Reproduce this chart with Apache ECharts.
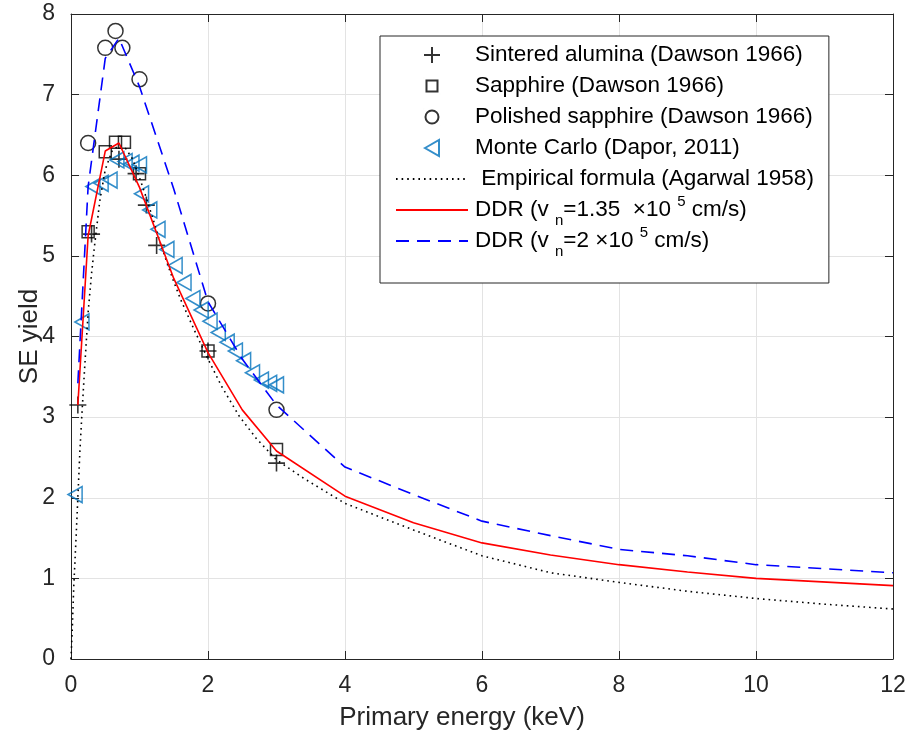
<!DOCTYPE html>
<html>
<head>
<meta charset="utf-8">
<script src="https://cdn.jsdelivr.net/npm/echarts@6/dist/echarts.min.js"></script>
<style>html,body{margin:0;padding:0;background:#fff}#c{width:909px;height:736px}</style>
</head>
<body>
<div id="c"></div>
<script>
// ---- data ----
const sinteredX = [0.1, 0.3, 0.7, 0.95, 1.1, 1.25, 2.0, 3.0];
const sinteredY = [3.15, 5.27, 6.2, 6.02, 5.63, 5.13, 3.82, 2.43];
const sapphireX = [0.25, 0.5, 0.65, 0.78, 1.0, 2.0, 3.0];
const sapphireY = [5.3, 6.29, 6.41, 6.41, 6.02, 3.82, 2.6];
const polishedX = [0.25, 0.5, 0.65, 0.75, 1.0, 2.0, 3.0];
const polishedY = [6.4, 7.58, 7.79, 7.58, 7.19, 4.41, 3.09];
const mcX = [0.06, 0.16, 0.32, 0.44, 0.57, 0.67, 0.79, 0.89, 1.0, 1.03, 1.15, 1.27, 1.4, 1.52, 1.65, 1.78, 1.9, 2.03, 2.15, 2.28, 2.4, 2.52, 2.65, 2.78, 2.9, 3.0];
const mcY = [2.04, 4.18, 5.86, 5.9, 5.94, 6.19, 6.17, 6.15, 6.13, 5.77, 5.57, 5.33, 5.08, 4.88, 4.67, 4.47, 4.33, 4.19, 4.05, 3.93, 3.82, 3.7, 3.55, 3.46, 3.42, 3.4];
const empX = [0, 0.02, 0.04, 0.06, 0.08, 0.1, 0.13, 0.16, 0.2, 0.25, 0.3, 0.34, 0.42, 0.5, 0.6, 0.7, 0.8, 0.9, 1.0, 1.1, 1.2, 1.3, 1.4, 1.5, 1.6, 1.8, 2.0, 2.2, 2.45, 2.7, 3.0, 3.4, 4, 5, 6, 7, 8, 9, 10, 11, 12];
const empY = [0, 0.4, 0.9, 1.25, 1.62, 2.0, 2.58, 3.05, 3.62, 4.3, 4.78, 5.1, 5.68, 6.07, 6.3, 6.37, 6.33, 6.2, 5.97, 5.72, 5.45, 5.17, 4.92, 4.68, 4.46, 4.08, 3.72, 3.38, 3.02, 2.74, 2.47, 2.24, 1.93, 1.6, 1.28, 1.07, 0.95, 0.84, 0.75, 0.68, 0.62];
const ddr135X = [0.1, 0.25, 0.5, 0.7, 1.0, 1.5, 2.0, 2.5, 3.0, 4, 5, 6, 7, 8, 9, 10, 12];
const ddr135Y = [3.15, 5.25, 6.3, 6.4, 5.85, 4.72, 3.8, 3.09, 2.58, 2.02, 1.69, 1.44, 1.29, 1.17, 1.08, 1.0, 0.91];
const ddr2X = [0.1, 0.25, 0.5, 0.7, 1.0, 1.5, 2.0, 2.5, 3.0, 4, 5, 6, 7, 8, 9, 10, 12];
const ddr2Y = [3.42, 5.86, 7.45, 7.7, 7.1, 5.83, 4.43, 3.72, 3.15, 2.38, 2.04, 1.71, 1.53, 1.36, 1.28, 1.17, 1.07];
const xTicks = [0, 2, 4, 6, 8, 10, 12];
const yTicks = [0, 1, 2, 3, 4, 5, 6, 7, 8];

const names = [
  'Sintered alumina (Dawson 1966)',
  'Sapphire (Dawson 1966)',
  'Polished sapphire (Dawson 1966)',
  'Monte Carlo (Dapor, 2011)',
  ' Empirical formula (Agarwal 1958)',
  'DDR135',
  'DDR2'
];

const zip = (xs, ys) => xs.map((x, i) => [x, ys[i]]);
const FONT = '"Liberation Sans", Arial, Helvetica, sans-serif';
const AX = '#262626';

// symbols
const PLUS = 'path://M0,8 L16,8 M8,0 L8,16';
const SQUARE = 'path://M0,0 L12,0 L12,12 L0,12 Z';
const TRI = 'path://M0,8 L14,0 L14,16 Z';
// legend icons padded inside an invisible 16x16 frame (tiny corner points)
const SQUARE_LEG = 'path://M0,0 L0.01,0 M16,16 L16.01,16 M2.5,2.5 L13.5,2.5 L13.5,13.5 L2.5,13.5 Z';
const CIRCLE_LEG = 'path://M0,0 L0.01,0 M16,16 L16.01,16 M14.5,8 A6.5,6.5 0 1 1 1.5,8 A6.5,6.5 0 1 1 14.5,8 Z';
const noSym = {color: 'transparent', borderColor: 'transparent', borderWidth: 0, opacity: 0};

const chart = echarts.init(document.getElementById('c'), null, {renderer: 'canvas'});
const baseX = {type: 'value', min: xTicks[0], max: xTicks[xTicks.length - 1], interval: 2};
const baseY = {type: 'value', min: yTicks[0], max: yTicks[yTicks.length - 1], interval: 1};
const LH = 38;
chart.setOption({
  animation: false,
  backgroundColor: '#fff',
  grid: {left: 71, right: 16, top: 14, bottom: 76, containLabel: false},
  xAxis: [
    Object.assign({}, baseX, {
      position: 'bottom',
      name: 'Primary energy (keV)', nameLocation: 'middle', nameGap: 46, nameMoveOverlap: false,
      nameTextStyle: {fontFamily: FONT, fontSize: 26, color: AX, padding: [0, 40, 0, 0]},
      axisLine: {show: true, onZero: false, lineStyle: {color: AX, width: 1}},
      axisTick: {show: true, inside: true, length: 8, lineStyle: {color: AX}},
      axisLabel: {fontFamily: FONT, fontSize: 23, color: AX, margin: 15},
      splitLine: {show: true, lineStyle: {color: '#e3e3e3', width: 1}}
    }),
    Object.assign({}, baseX, {
      position: 'top',
      axisLine: {show: true, onZero: false, lineStyle: {color: AX, width: 1}},
      axisTick: {show: true, inside: true, length: 8, lineStyle: {color: AX}},
      axisLabel: {show: false}, splitLine: {show: false}
    })
  ],
  yAxis: [
    Object.assign({}, baseY, {
      position: 'left',
      name: 'SE yield', nameLocation: 'middle', nameGap: 28, nameRotate: 90, nameMoveOverlap: false,
      nameTextStyle: {fontFamily: FONT, fontSize: 26, color: AX},
      axisLine: {show: true, onZero: false, lineStyle: {color: AX, width: 1}},
      axisTick: {show: true, inside: true, length: 8, lineStyle: {color: AX}},
      axisLabel: {fontFamily: FONT, fontSize: 23, color: AX, margin: 16},
      splitLine: {show: true, lineStyle: {color: '#e3e3e3', width: 1}}
    }),
    Object.assign({}, baseY, {
      position: 'right',
      axisLine: {show: true, onZero: false, lineStyle: {color: AX, width: 1}},
      axisTick: {show: true, inside: true, length: 8, lineStyle: {color: AX}},
      axisLabel: {show: false}, splitLine: {show: false}
    })
  ],
  legend: {
    orient: 'vertical', left: 380, top: 36,
    backgroundColor: '#fff', borderColor: AX, borderWidth: 1,
    padding: [0, 15, 23, 15],
    itemWidth: 72, itemHeight: 16, itemGap: 31 - LH,
    data: [
      {name: names[0]},
      {name: names[1], icon: SQUARE_LEG},
      {name: names[2], icon: CIRCLE_LEG},
      {name: names[3]},
      {name: names[4], itemStyle: noSym},
      {name: names[5], itemStyle: noSym},
      {name: names[6], itemStyle: noSym}
    ],
    formatter: function (n) {
      if (n === 'DDR135') return 'DDR (v {sub|n}=1.35  ×10 {sup|5} cm/s)';
      if (n === 'DDR2') return 'DDR (v {sub|n}=2 ×10 {sup|5} cm/s)';
      return n;
    },
    textStyle: {
      fontFamily: FONT, fontSize: 22.5, color: '#000', lineHeight: LH, padding: [0, 0, 0, 2],
      rich: {
        sub: {fontFamily: FONT, fontSize: 15, color: '#000', lineHeight: LH, padding: [21, 0, 0, 0]},
        sup: {fontFamily: FONT, fontSize: 15, color: '#000', lineHeight: LH, padding: [0, 0, 16, 0]}
      }
    }
  },
  series: [
    {
      name: names[0], type: 'scatter', data: zip(sinteredX, sinteredY),
      symbol: PLUS, symbolSize: 17,
      itemStyle: {color: 'transparent', borderColor: '#000', borderWidth: 1.6}
    },
    {
      name: names[1], type: 'scatter', data: zip(sapphireX, sapphireY),
      symbol: SQUARE, symbolSize: 12,
      itemStyle: {color: 'transparent', borderColor: '#000', borderWidth: 1.5}
    },
    {
      name: names[2], type: 'scatter', data: zip(polishedX, polishedY),
      symbol: 'circle', symbolSize: 15,
      itemStyle: {color: 'transparent', borderColor: '#000', borderWidth: 1.5}
    },
    {
      name: names[3], type: 'scatter', data: zip(mcX, mcY),
      symbol: TRI, symbolSize: [14, 16],
      itemStyle: {color: 'transparent', borderColor: '#0072BD', borderWidth: 1.6}
    },
    {
      name: names[4], type: 'line', data: zip(empX, empY),
      symbol: 'none', showSymbol: false,
      lineStyle: {color: '#000', width: 1.6, type: [1.6, 4]},
      itemStyle: {color: '#000'}
    },
    {
      name: names[5], type: 'line', data: zip(ddr135X, ddr135Y),
      symbol: 'none', showSymbol: false,
      lineStyle: {color: '#ff0000', width: 1.6, type: 'solid'},
      itemStyle: {color: '#ff0000'}
    },
    {
      name: names[6], type: 'line', data: zip(ddr2X, ddr2Y),
      symbol: 'none', showSymbol: false,
      lineStyle: {color: '#0000ff', width: 1.6, type: [13, 8]},
      itemStyle: {color: '#0000ff'}
    }
  ]
});
</script>
</body>
</html>
